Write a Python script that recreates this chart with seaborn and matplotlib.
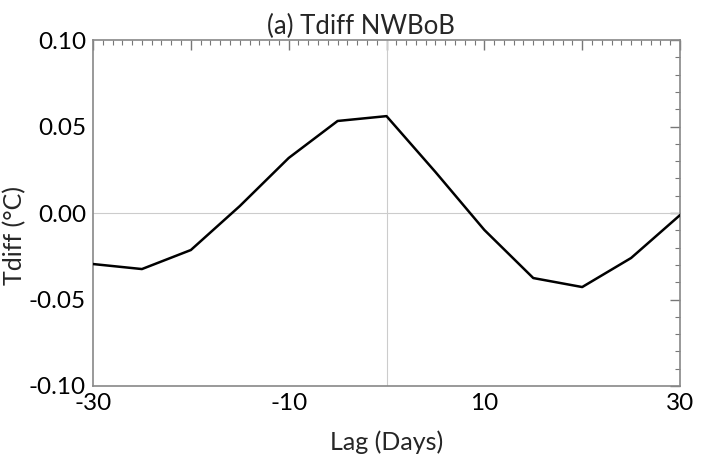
import numpy as np
import pandas as pd
import matplotlib
matplotlib.use("Agg")
import matplotlib.pyplot as plt
import seaborn as sns
from matplotlib.ticker import MultipleLocator

# Lagged composite of Tdiff over NWBoB
lag_days = [-30, -25, -20, -15, -10, -5, 0, 5, 10, 15, 20, 25, 30]
tdiff = [-0.0295, -0.0324, -0.0214, 0.004, 0.0318, 0.0532, 0.056,
         0.0237, -0.0098, -0.0376, -0.0428, -0.026, -0.0012]

df = pd.DataFrame({"lag": lag_days, "tdiff": tdiff})

sns.set_style("white")
plt.rcParams["font.family"] = ["Lato", "DejaVu Sans"]

fig = plt.figure(figsize=(7.02, 4.61), dpi=100)
ax = fig.add_axes([0.1325, 0.1627, 0.8362, 0.7505])

ax.axhline(0, color="#cccccc", lw=0.8, zorder=1)
ax.axvline(0, color="#cccccc", lw=0.8, zorder=1)

sns.lineplot(data=df, x="lag", y="tdiff", color="black", linewidth=1.8, ax=ax, zorder=3)

ax.set_xlim(-30, 30)
ax.set_ylim(-0.10, 0.10)

ax.xaxis.set_minor_locator(MultipleLocator(1))
ax.set_xticks([-30, -20, -10, 0, 10, 20, 30])
ax.set_xticklabels(["-30", "", "-10", "", "10", "", "30"])
ax.yaxis.set_minor_locator(MultipleLocator(0.01))
ax.set_yticks([-0.10, -0.05, 0.0, 0.05, 0.10])
ax.set_yticklabels(["-0.10", "-0.05", "0.00", "0.05", "0.10"])

ax.tick_params(which="both", direction="in", top=True, right=True,
               color="#777777", labelsize=17.5, labelcolor="black")
ax.tick_params(which="major", length=7, width=1, pad=5)
ax.tick_params(which="minor", length=3.5, width=0.8)

for s in ax.spines.values():
    s.set_color("#888888")
    s.set_linewidth(1.2)

ax.set_xlabel("Lag (Days)", fontsize=18, labelpad=12)
ax.set_ylabel("Tdiff (\u00b0C)", fontsize=18)
ax.yaxis.set_label_coords(-0.113, 0.436)
ax.set_title("(a) Tdiff NWBoB", fontsize=18.5, pad=4, x=0.457)

fig.savefig("out.png", dpi=100)
